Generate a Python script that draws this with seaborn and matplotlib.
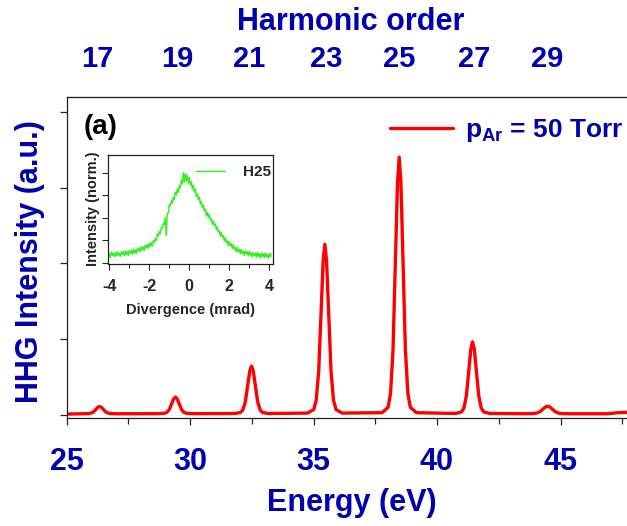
import numpy as np
import pandas as pd
import matplotlib
matplotlib.use("Agg")
import matplotlib.pyplot as plt
import seaborn as sns

# ---------------- data ----------------
energy_ev = [25.00,
             25.64, 25.89, 25.99, 26.09, 26.19, 26.27, 26.34, 26.41, 26.49, 26.59, 26.69, 26.79, 27.04,
             28.71, 28.96, 29.06, 29.16, 29.26, 29.34, 29.41, 29.48, 29.56, 29.66, 29.76, 29.86, 30.11,
             31.79, 32.04, 32.14, 32.24, 32.34, 32.42, 32.49, 32.56, 32.64, 32.74, 32.84, 32.94, 33.19,
             34.76, 35.01, 35.11, 35.21, 35.31, 35.39, 35.46, 35.53, 35.61, 35.71, 35.81, 35.91, 36.16,
             37.77, 38.02, 38.12, 38.22, 38.32, 38.40, 38.47, 38.54, 38.62, 38.72, 38.82, 38.92, 39.17,
             40.74, 40.99, 41.09, 41.19, 41.29, 41.37, 41.44, 41.51, 41.59, 41.69, 41.79, 41.89, 42.14,
             43.58, 43.90, 44.03, 44.16, 44.29, 44.39, 44.48, 44.57, 44.67, 44.80, 44.93, 45.06, 45.38,
             46.90, 47.30, 47.60, 48.00, 48.50, 50.00]
hhg_intensity = [0.008,
                 0.012, 0.014, 0.020, 0.036, 0.070, 0.098, 0.107, 0.098, 0.070, 0.036, 0.020, 0.014, 0.012,
                 0.013, 0.018, 0.030, 0.067, 0.146, 0.210, 0.232, 0.210, 0.146, 0.067, 0.030, 0.018, 0.013,
                 0.015, 0.028, 0.062, 0.170, 0.396, 0.579, 0.642, 0.579, 0.396, 0.170, 0.062, 0.028, 0.015,
                 0.021, 0.068, 0.191, 0.572, 1.378, 2.028, 2.252, 2.028, 1.378, 0.572, 0.191, 0.068, 0.021,
                 0.026, 0.097, 0.283, 0.860, 2.080, 3.063, 3.402, 3.063, 2.080, 0.860, 0.283, 0.097, 0.026,
                 0.016, 0.036, 0.088, 0.250, 0.592, 0.867, 0.962, 0.867, 0.592, 0.250, 0.088, 0.036, 0.016,
                 0.012, 0.015, 0.020, 0.037, 0.073, 0.102, 0.112, 0.102, 0.073, 0.037, 0.020, 0.015, 0.012,
                 0.012, 0.025, 0.030, 0.025, 0.015, 0.012]

harmonic_orders = ["17", "19", "21", "23", "25", "27", "29"]
harmonic_energy = [26.25, 29.50, 32.40, 35.50, 38.45, 41.50, 44.45]

divergence_mrad = [-4.10, -4.05, -4.00, -3.95, -3.90, -3.85, -3.80, -3.75, -3.70, -3.65,
                   -3.60, -3.55, -3.50, -3.45, -3.40, -3.35, -3.30, -3.25, -3.20, -3.15,
                   -3.10, -3.05, -3.00, -2.95, -2.90, -2.85, -2.80, -2.75, -2.70, -2.65,
                   -2.60, -2.55, -2.50, -2.45, -2.40, -2.35, -2.30, -2.25, -2.20, -2.15,
                   -2.10, -2.05, -2.00, -1.95, -1.90, -1.85, -1.80, -1.75, -1.70, -1.65,
                   -1.60, -1.55, -1.50, -1.45, -1.40, -1.35, -1.30, -1.25, -1.20, -1.15,
                   -1.10, -1.05, -1.00, -0.95, -0.90, -0.85, -0.80, -0.75, -0.70, -0.65,
                   -0.60, -0.55, -0.50, -0.45, -0.40, -0.35, -0.30, -0.25, -0.20, -0.15,
                   -0.10, -0.05, 0.00, 0.05, 0.10, 0.15, 0.20, 0.25, 0.30, 0.35,
                   0.40, 0.45, 0.50, 0.55, 0.60, 0.65, 0.70, 0.75, 0.80, 0.85,
                   0.90, 0.95, 1.00, 1.05, 1.10, 1.15, 1.20, 1.25, 1.30, 1.35,
                   1.40, 1.45, 1.50, 1.55, 1.60, 1.65, 1.70, 1.75, 1.80, 1.85,
                   1.90, 1.95, 2.00, 2.05, 2.10, 2.15, 2.20, 2.25, 2.30, 2.35,
                   2.40, 2.45, 2.50, 2.55, 2.60, 2.65, 2.70, 2.75, 2.80, 2.85,
                   2.90, 2.95, 3.00, 3.05, 3.10, 3.15, 3.20, 3.25, 3.30, 3.35,
                   3.40, 3.45, 3.50, 3.55, 3.60, 3.65, 3.70, 3.75, 3.80, 3.85,
                   3.90, 3.95, 4.00, 4.05, 4.10]
h25_profile = [0.110, 0.065, 0.095, 0.057, 0.118, 0.079, 0.110, 0.066, 0.107, 0.073,
               0.124, 0.080, 0.106, 0.068, 0.124, 0.090, 0.122, 0.078, 0.135, 0.091,
               0.123, 0.079, 0.135, 0.102, 0.135, 0.092, 0.150, 0.108, 0.141, 0.100,
               0.158, 0.127, 0.160, 0.120, 0.180, 0.140, 0.175, 0.135, 0.195, 0.165,
               0.200, 0.160, 0.220, 0.182, 0.220, 0.182, 0.245, 0.225, 0.270, 0.245,
               0.320, 0.295, 0.345, 0.320, 0.395, 0.385, 0.440, 0.420, 0.500, 0.300,
               0.550, 0.550, 0.645, 0.630, 0.690, 0.660, 0.730, 0.700, 0.785, 0.750,
               0.820, 0.780, 0.860, 0.830, 0.920, 0.875, 1.000, 0.895, 0.990, 0.905,
               0.975, 0.885, 0.950, 0.860, 0.905, 0.820, 0.860, 0.785, 0.820, 0.735,
               0.765, 0.700, 0.730, 0.650, 0.680, 0.610, 0.640, 0.575, 0.595, 0.525,
               0.560, 0.500, 0.540, 0.475, 0.490, 0.425, 0.465, 0.415, 0.430, 0.365,
               0.400, 0.340, 0.355, 0.295, 0.335, 0.285, 0.300, 0.240, 0.280, 0.225,
               0.245, 0.190, 0.235, 0.190, 0.210, 0.155, 0.200, 0.147, 0.170, 0.117,
               0.165, 0.125, 0.150, 0.100, 0.150, 0.101, 0.128, 0.080, 0.132, 0.095,
               0.122, 0.076, 0.130, 0.082, 0.110, 0.062, 0.115, 0.078, 0.107, 0.061,
               0.115, 0.069, 0.098, 0.052, 0.107, 0.071, 0.100, 0.055, 0.110, 0.064,
               0.093, 0.048, 0.102, 0.067, 0.096]

spec_df = pd.DataFrame({"Energy": energy_ev, "Intensity": hhg_intensity})
prof_df = pd.DataFrame({"Divergence": divergence_mrad, "Profile": h25_profile})

# ---------------- style ----------------
sns.set_style("ticks")
plt.rcParams["font.family"] = ["Liberation Sans", "DejaVu Sans"]
plt.rcParams["font.weight"] = "bold"
plt.rcParams["axes.unicode_minus"] = False
plt.rcParams["mathtext.fontset"] = "custom"
plt.rcParams["mathtext.bf"] = "Liberation Sans:bold"
plt.rcParams["mathtext.rm"] = "Liberation Sans:bold"
plt.rcParams["mathtext.it"] = "Liberation Sans:bold"

BLUE = "#0000b0"
RED = "#ff0000"
GREEN = "#33ee22"

W, H = 627, 526
fig = plt.figure(figsize=(W / 100, H / 100), dpi=100)

def fx(px):
    return px / W

def fy(py):
    return 1 - py / H

# main axes (right edge extends beyond the figure, like the cropped original)
left_px, right_px, top_px, bot_px = 66.5, 66.5 + 25 * 24.7, 97, 418
ax = fig.add_axes([fx(left_px), fy(bot_px), fx(right_px - left_px), (bot_px - top_px) / H])
sns.lineplot(data=spec_df, x="Energy", y="Intensity", ax=ax, color=RED, lw=2.4,
             label=r"$\mathbf{p_{Ar}}$ = 50 Torr", sort=False)
ax.set_xlim(25, 50)
ax.set_ylim(-0.044, 4.197)
ax.set_xlabel("")
ax.set_ylabel("")
ax.set_xticks([25, 30, 35, 40, 45])
ax.set_xticks([27.5, 32.5, 37.5, 42.5, 47.5], minor=True)
ax.set_yticks([0, 1, 2, 3, 4])
ax.set_yticklabels([])
ax.tick_params(axis="x", which="major", direction="out", length=5, width=0.9,
               pad=16, labelsize=22, labelcolor=BLUE)
ax.tick_params(axis="x", which="minor", direction="out", length=4, width=0.9)
ax.tick_params(axis="y", which="major", direction="out", length=5, width=0.9)
for lab in ax.get_xticklabels():
    lab.set_fontweight("bold")
for s in ax.spines.values():
    s.set_linewidth(0.9)
    s.set_color("#222222")

sec = ax.secondary_xaxis("top")
sec.set_xticks(harmonic_energy)
sec.set_xticklabels(harmonic_orders, fontsize=21, fontweight="bold", color=BLUE)
sec.tick_params(axis="x", length=0, pad=17)

leg = ax.legend(loc="center left", bbox_to_anchor=(fx(390), fy(131)),
                bbox_transform=fig.transFigure, frameon=False, handlelength=2.4,
                handletextpad=0.45, borderpad=0, borderaxespad=0,
                prop={"size": 19, "weight": "bold"}, labelcolor=BLUE)

fig.text(fx(351), fy(22), "Harmonic order", ha="center", va="center",
         fontsize=22, fontweight="bold", color=BLUE)
fig.text(fx(352), fy(503), "Energy (eV)", ha="center", va="center",
         fontsize=22, fontweight="bold", color=BLUE)
fig.text(fx(30), fy(262), "HHG Intensity (a.u.)", ha="center", va="center",
         rotation=90, fontsize=22, fontweight="bold", color=BLUE)
fig.text(fx(101), fy(127), "(a)", ha="center", va="center",
         fontsize=20, fontweight="bold", color="black")

# inset
il, ir, it, ib = 108.3, 272.7, 155, 264
axi = fig.add_axes([fx(il), fy(ib), fx(ir - il), (ib - it) / H])
sns.lineplot(data=prof_df, x="Divergence", y="Profile", ax=axi, color=GREEN,
             lw=1.0, label="H25", sort=False)
axi.set_xlim(-4.05, 4.17)
axi.set_ylim(-0.015, 1.197)
axi.set_xlabel("")
axi.set_ylabel("")
axi.set_xticks([-4, -2, 0, 2, 4])
axi.set_xticks([-3, -1, 1, 3], minor=True)
axi.set_yticks([0, 0.25, 0.5, 0.75, 1.0])
axi.set_yticklabels([])
axi.tick_params(axis="x", which="major", direction="out", length=4, width=0.8,
                pad=7, labelsize=11.5)
axi.tick_params(axis="x", which="minor", direction="out", length=3, width=0.8)
axi.tick_params(axis="y", direction="out", length=4, width=0.8)
for lab in axi.get_xticklabels():
    lab.set_fontweight("bold")
for s in axi.spines.values():
    s.set_linewidth(0.9)
    s.set_color("#222222")
axi.text(0.5, (ib - 310) / (ib - it), "Divergence (mrad)", transform=axi.transAxes,
         ha="center", va="center", fontsize=10.5, fontweight="bold")
axi.text((93 - il) / (ir - il), (ib - 208.5) / (ib - it), "Intensity (norm.)",
         transform=axi.transAxes, ha="center", va="center", rotation=90,
         fontsize=10.5, fontweight="bold")
axi.legend(loc="center left", bbox_to_anchor=(fx(196), fy(172)),
           bbox_transform=fig.transFigure, frameon=False, handlelength=1.9,
           handletextpad=1.2, borderpad=0, borderaxespad=0,
           prop={"size": 11, "weight": "bold"})

fig.savefig("out.png", dpi=100)
